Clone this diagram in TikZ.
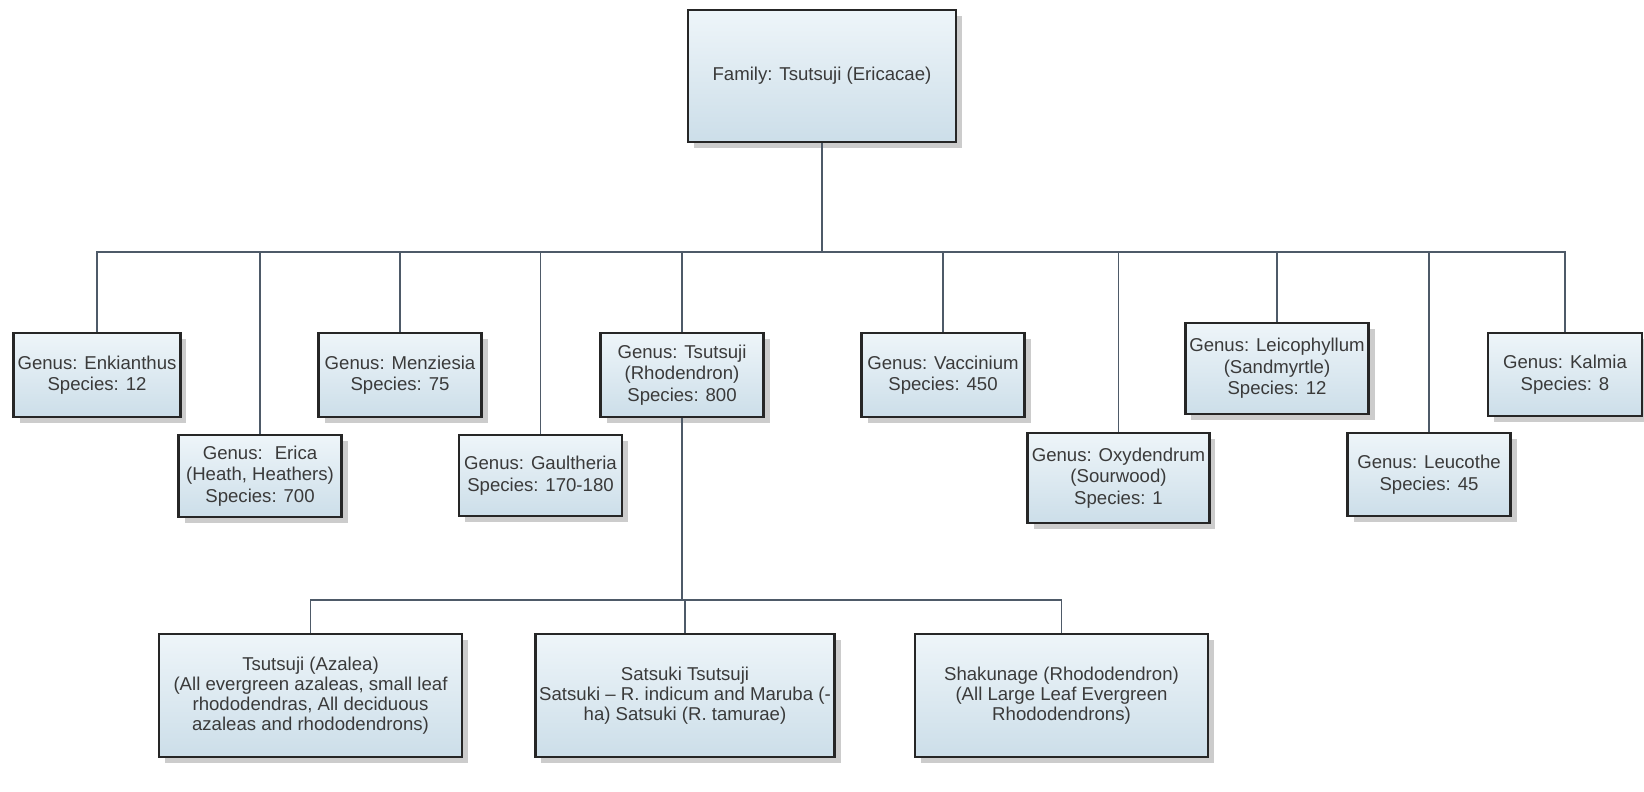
\documentclass[tikz,border=0pt]{standalone}
\usepackage{fontspec}
\setmainfont{Liberation Sans}
\usetikzlibrary{positioning,shadows}
\definecolor{boxTop}{RGB}{238,245,249}
\definecolor{boxBot}{RGB}{204,222,233}
\definecolor{cEdge}{RGB}{38,38,38}
\definecolor{cLink}{RGB}{78,90,104}
\definecolor{cText}{RGB}{58,58,58}
\tikzset{
  taxon/.style={draw=cEdge, line width=1.4pt, top color=boxTop, bottom color=boxBot,
                general shadow={fill=gray!40, shadow xshift=3pt, shadow yshift=-3pt},
                align=center, text=cText, font=\fontsize{9.3}{10.8}\selectfont, inner sep=2pt},
  genus/.style={taxon, minimum width=81.5pt, minimum height=42pt},
  group/.style={taxon, minimum width=148.5pt, minimum height=61.5pt,
                font=\fontsize{9.3}{9.9}\selectfont},
  link/.style={draw=cLink, line width=0.9pt},
}

\begin{document}
\begin{tikzpicture}[x=0.5pt, y=-0.5pt]
\useasboundingbox (0,0) rectangle (1644,792);
\node[taxon, minimum width=134pt, minimum height=66pt] (fam) at (822,76) {Family: Tsutsuji (Ericacae)};

% genera, upper row
\node[genus] (enk) at (97,375)  {Genus: Enkianthus\\Species: 12};
\node[genus] (men) at (400,375) {Genus: Menziesia\\Species: 75};
\node[genus] (tsu) at (682,375) {Genus: Tsutsuji\\(Rhodendron)\\Species: 800};
\node[genus] (vac) at (943,375) {Genus: Vaccinium\\Species: 450};
\node[genus, minimum width=91pt, minimum height=45.5pt] (lei) at (1277,368.5) {Genus: Leicophyllum\\(Sandmyrtle)\\Species: 12};
\node[genus, minimum width=77pt, minimum height=41.5pt] (kal) at (1565,374.5) {Genus: Kalmia\\Species: 8};

% genera, lower row
\node[genus, minimum height=41pt] (eri) at (260,476)   {Genus:~ Erica\\(Heath, Heathers)\\Species: 700};
\node[genus, minimum height=40.5pt] (gau) at (540.5,475.5) {Genus: Gaultheria\\Species: 170-180};
\node[genus, minimum width=89.5pt, minimum height=45pt] (oxy) at (1118.5,478) {Genus: Oxydendrum\\(Sourwood)\\Species: 1};
\node[genus, minimum height=41.5pt] (leu) at (1429,474.5) {Genus: Leucothe\\Species: 45};

% groups of Tsutsuji
\node[group, minimum width=151.5pt] (aza) at (310.5,695.5) {Tsutsuji (Azalea)\\(All evergreen azaleas, small leaf\\rhododendras, All deciduous\\azaleas and rhododendrons)};
\node[group] (sat) at (685,695.5) {Satsuki Tsutsuji\\Satsuki -- R. indicum and Maruba (-\\ha) Satsuki (R. tamurae)};
\node[group, minimum width=146.5pt] (sha) at (1061.5,695.5) {Shakunage (Rhododendron)\\(All Large Leaf Evergreen\\Rhododendrons)};

% buses
\coordinate (bus) at (0,252);
\coordinate (subbus) at (0,600);
\foreach \g in {enk,eri,men,gau,tsu,vac,oxy,lei,leu,kal}
  \draw[link] (fam.south) -- (fam.south |- bus) -| (\g.north);
\foreach \g in {aza,sat,sha}
  \draw[link] (tsu.south) -- (tsu.south |- subbus) -| (\g.north);
\end{tikzpicture}
\end{document}
